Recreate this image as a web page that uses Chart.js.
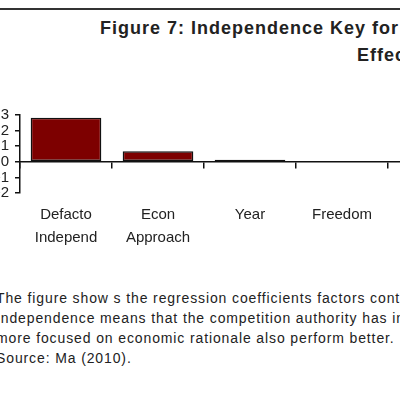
<!DOCTYPE html>
<html>
<head>
<meta charset="utf-8">
<script src="https://cdn.jsdelivr.net/npm/chart.js@4/dist/chart.umd.min.js"></script>
<style>
  html, body { margin: 0; padding: 0; background: #fff; }
  body { width: 400px; height: 400px; overflow: hidden; position: relative; font-family: Arial, "Liberation Sans", sans-serif; }
  #rule { position: absolute; left: 0; top: 8px; width: 400px; height: 2px; background: #333; }
  .title { position: absolute; white-space: nowrap; font-weight: bold; font-size: 18px; letter-spacing: 1px; color: #222; }
  #wrap { position: absolute; left: -20px; top: 100px; width: 500px; height: 160px; }
  #caption { position: absolute; left: -4px; top: 288px; white-space: nowrap; font-size: 14px; line-height: 20px; letter-spacing: 0.88px; color: #222; }
</style>
</head>
<body>
<div id="rule"></div>
<div class="title" style="left:100px; top:18px;">Figure 7: Independence Key for</div>
<div class="title" style="left:357px; top:45px;">Effectiveness</div>
<div id="wrap"><canvas id="chart"></canvas></div>
<div id="caption">
  The figure show s the regression coefficients factors contributing<br>
  Independence means that the competition authority has independent<br>
  more focused on economic rationale also perform better.<br>
  Source: Ma (2010).
</div>
<script>
// chart data
const categories = [["Defacto", "Independ"], ["Econ", "Approach"], "Year", "Freedom", ""];
const coefficients = [2.82, 0.68, 0.14, 0, null];
const yTicks = [-2, -1, 0, 1, 2, 3];

const data = {
  labels: categories,
  datasets: [
    {
      label: "Coefficient",
      data: coefficients,
      backgroundColor: "#7d0000",
      borderColor: "#111",
      borderWidth: 1.5,
      borderSkipped: false,
      categoryPercentage: 0.8,
      barPercentage: 0.96,
      xAxisID: "x",
    },
  ],
};

const config = {
  type: "bar",
  data,
  options: {
    responsive: true,
    maintainAspectRatio: false,
    animation: false,
    layout: { padding: { top: 15, bottom: 1, left: 0, right: 0 } },
    plugins: { legend: { display: false }, tooltip: { enabled: false } },
    scales: {
      x: {
        position: { y: 0 },
        offset: true,
        grid: { display: true, drawOnChartArea: false, drawTicks: true, offset: true, tickLength: 6, color: "#111", lineWidth: 1.5 },
        border: { display: true, color: "#111", width: 1.5 },
        ticks: { display: false },
      },
      x2: {
        type: "category",
        position: "bottom",
        offset: true,
        grid: { display: false, drawTicks: false },
        border: { display: false },
        ticks: {
          padding: 10,
          color: "#222",
          maxRotation: 0,
          autoSkip: false,
          font: { family: "Arial, 'Liberation Sans', sans-serif", size: 15, lineHeight: 1.53 },
        },
      },
      y: {
        min: yTicks[0],
        max: yTicks[yTicks.length - 1],
        afterFit: (scale) => { scale.width = 40; },
        afterBuildTicks: (scale) => { scale.ticks = yTicks.map((v) => ({ value: v })); },
        grid: { drawOnChartArea: false, tickLength: 5, color: "#111", lineWidth: 1.5 },
        border: { display: true, color: "#111", width: 1.5 },
        ticks: {
          padding: 6,
          autoSkip: false,
          color: "#222",
          font: { family: "Arial, 'Liberation Sans', sans-serif", size: 15 },
        },
      },
    },
  },
};

const chart = new Chart(document.getElementById("chart"), config);
</script>
</body>
</html>
